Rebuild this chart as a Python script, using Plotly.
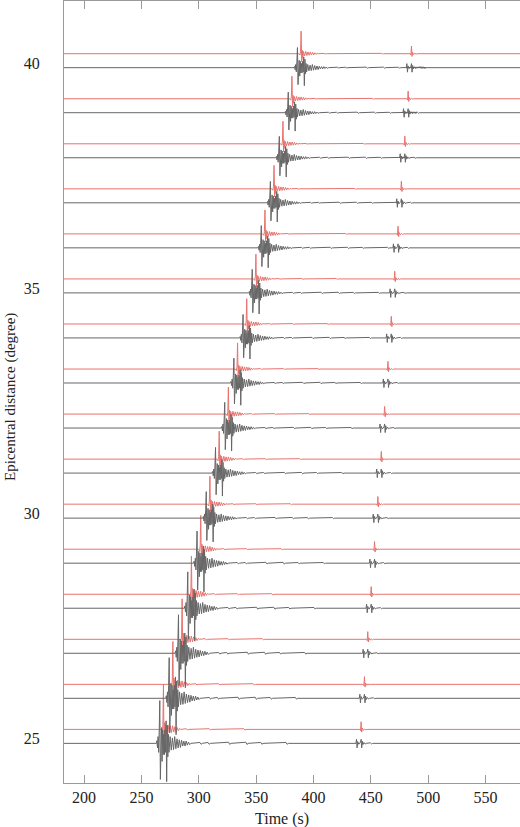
import plotly.graph_objects as go

# ---------------- data ----------------
distances = [25, 26, 27, 28, 29, 30, 31, 32, 33, 34, 35, 36, 37, 38, 39, 40]

# time of first large P swing on the black (observed) traces, s
p_black = [266.0, 274.2, 282.3, 290.4, 298.5, 306.5, 314.6, 322.6,
           330.6, 338.6, 346.6, 354.5, 362.4, 370.2, 378.0, 386.0]
# time of main spike on the red (synthetic) traces, s
p_red = [269.2, 277.4, 285.5, 293.6, 301.7, 309.7, 317.8, 325.8,
         333.8, 341.8, 349.8, 357.7, 365.6, 373.4, 381.2, 389.2]
# later phase arrival, black and red traces, s
late_black = [437.5, 440.4, 443.3, 446.3, 449.2, 452.1, 455.1, 458.0,
              460.9, 463.8, 466.8, 469.7, 472.6, 475.6, 478.5, 481.4]
late_red = [441.5, 444.4, 447.3, 450.3, 453.2, 456.1, 459.1, 462.0,
            464.9, 467.8, 470.8, 473.7, 476.6, 479.6, 482.5, 485.4]

# amplitude scale of each trace (degrees of distance per unit)
amp_black = [1.0, 0.95, 0.9, 0.85, 0.75, 0.62, 0.6, 0.6,
             0.58, 0.55, 0.55, 0.52, 0.5, 0.5, 0.48, 0.47]
amp_red = [1.0, 0.95, 0.9, 0.85, 0.75, 0.62, 0.62, 0.6,
           0.58, 0.56, 0.55, 0.53, 0.52, 0.5, 0.5, 0.5]

# P wavelet of black traces: time offset (s) and normalised amplitude
black_dt = [-3.0, -2.5, -2.0, -1.5, -1.0, -0.5, 0.0, 0.5, 1.0, 1.5, 2.0, 2.5,
            3.0, 3.5, 4.0, 4.5, 5.0, 5.5, 6.0, 6.5, 7.0, 7.5, 8.0,
            9.0, 10.0, 11.0, 12.0, 13.0, 14.0, 15.0, 16.0, 17.0, 18.0, 19.0,
            20.0, 21.0, 22.0, 23.0, 24.0, 25.0, 26.0, 27.0,
            35.0, 36.0, 37.0, 42.0, 43.0, 44.0, 60.0, 61.0, 62.0,
            75.0, 76.0, 77.0, 88.0, 89.0, 90.0, 110.0, 111.0, 112.0]
black_amp = [0.0, 0.06, -0.1, 0.15, -0.2, 0.3, 0.95, -0.8, -0.2, 0.35, -0.4, 0.3,
             -0.25, 0.2, -0.25, 0.3, -0.2, 0.5, -0.85, 0.4, -0.3, 0.2, -0.2,
             0.15, -0.15, 0.12, -0.14, 0.15, -0.12, 0.1, -0.1, 0.08, -0.09, 0.07,
             -0.06, 0.05, -0.06, 0.05, -0.04, 0.03, -0.03, 0.0,
             0.02, -0.02, 0.0, 0.02, -0.02, 0.0, 0.025, -0.025, 0.0,
             0.025, -0.025, 0.0, 0.02, -0.02, 0.0, 0.02, -0.02, 0.0]

# P wavelet of red traces: time offset (s) and normalised amplitude
red_dt = [-2.0, -1.0, -0.5, 0.0, 0.5, 1.0, 1.5, 2.0, 3.0, 4.0, 5.0, 6.0,
          7.0, 8.0, 9.0, 10.0, 11.0, 12.0, 13.0, 14.0, 15.0,
          20.0, 21.0, 22.0, 40.0, 41.0, 42.0, 70.0, 71.0, 72.0]
red_amp = [0.0, -0.06, 0.1, 1.0, -0.35, 0.15, -0.2, 0.1, -0.1, 0.1, -0.08, 0.08,
           -0.07, 0.08, -0.06, 0.06, -0.05, 0.04, -0.03, 0.02, 0.0,
           0.015, -0.015, 0.0, 0.015, -0.015, 0.0, 0.015, -0.015, 0.0]

# later phase wavelets (absolute amplitude, degrees)
late_black_dt = [-0.5, 0.0, 0.5, 1.0, 2.0, 3.0, 3.5, 4.0, 4.5, 5.0, 5.5,
                 6.5, 7.5, 8.5, 9.5, 12.0, 13.0, 14.0]
late_black_amp = [0.0, 0.09, -0.1, 0.04, -0.02, 0.0, 0.03, 0.09, -0.1, 0.05, -0.03,
                  0.02, -0.015, 0.0, 0.0, 0.012, -0.012, 0.0]
late_red_dt = [-1.0, -0.5, 0.0, 0.5, 1.0, 2.0, 3.0, 4.0, 5.0]
late_red_amp = [0.0, -0.03, 0.17, -0.06, 0.03, -0.02, 0.01, -0.01, 0.0]

black_offset = -0.1   # black trace baseline relative to its distance
red_offset = 0.21     # red trace baseline relative to its distance

x_ticks = [200, 250, 300, 350, 400, 450, 500, 550]
y_ticks = [25, 30, 35, 40]
x_range = [182.5, 580]
y_range = [24.02, 41.38]

# ---------------- figure ----------------
fig = go.Figure()
font_family = "'Liberation Serif', 'DejaVu Serif', serif"


def build(base, t_main, scale, dts, amps, t_late, ldts, lamps):
    xs = [x_range[0]]
    ys = [base]
    for dt, a in zip(dts, amps):
        xs.append(t_main + dt)
        ys.append(base + scale * a)
    for dt, a in zip(ldts, lamps):
        xs.append(t_late + dt)
        ys.append(base + a)
    xs.append(x_range[1])
    ys.append(base)
    return xs, ys


for i, d in enumerate(distances):
    xs, ys = build(d + red_offset, p_red[i], amp_red[i], red_dt, red_amp,
                   late_red[i], late_red_dt, late_red_amp)
    fig.add_trace(go.Scatter(x=xs, y=ys, mode="lines",
                             line=dict(color="#e8736e", width=1),
                             showlegend=False, hoverinfo="skip"))
    xs, ys = build(d + black_offset, p_black[i], amp_black[i], black_dt, black_amp,
                   late_black[i], late_black_dt, late_black_amp)
    fig.add_trace(go.Scatter(x=xs, y=ys, mode="lines",
                             line=dict(color="#666666", width=1),
                             showlegend=False, hoverinfo="skip"))

fig.update_layout(
    width=520, height=827,
    margin=dict(l=64, r=0, t=1, b=44),
    paper_bgcolor="white", plot_bgcolor="white",
    font=dict(family=font_family, size=16, color="#222"),
    annotations=[
        dict(text="Time (s)", xref="paper", yref="paper", x=0.478, y=-0.046,
             xanchor="center", yanchor="middle", showarrow=False,
             font=dict(size=16)),
        dict(text="Epicentral distance (degree)", xref="paper", yref="paper",
             x=-0.118, y=0.494, xanchor="center", yanchor="middle",
             textangle=-90, showarrow=False, font=dict(size=15)),
    ],
)
fig.update_xaxes(
    range=x_range, tickvals=x_ticks, ticktext=[str(v) for v in x_ticks],
    showgrid=False, zeroline=False, showline=True, linecolor="#999", linewidth=1,
    mirror="ticks", ticks="inside", ticklen=8, tickcolor="#999",
    automargin=False,
)
fig.update_yaxes(
    range=y_range, tickvals=y_ticks, ticktext=[str(v) for v in y_ticks],
    showgrid=False, zeroline=False, showline=True, linecolor="#999", linewidth=1,
    ticks="", ticklabelstandoff=20, automargin=False,
)

fig.write_html("out.html", config={"displayModeBar": False},
               post_script="document.body.style.margin='0';")
